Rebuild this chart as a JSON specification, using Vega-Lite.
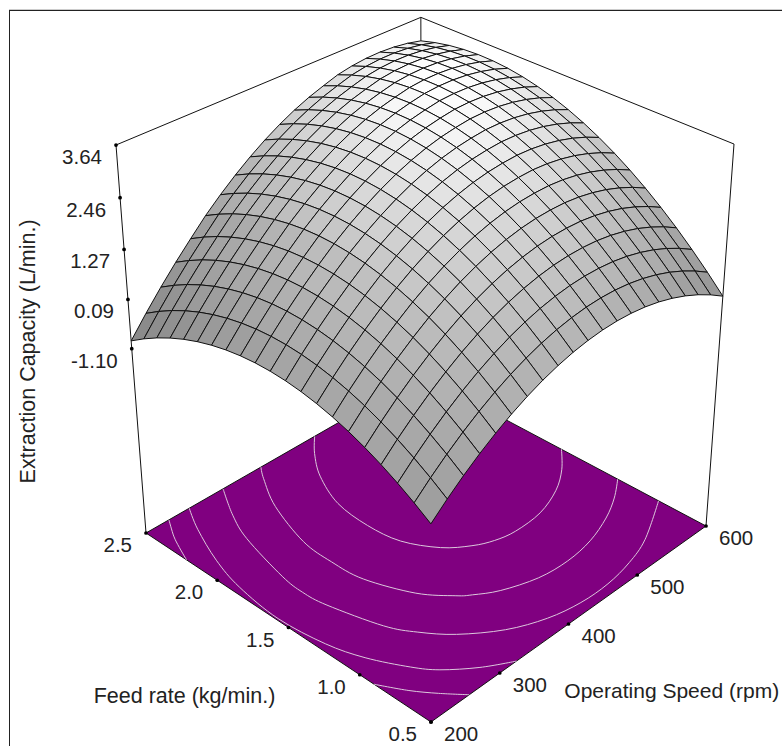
{"$schema":"https://vega.github.io/schema/vega-lite/v6.json","autosize":{"type":"fit","contains":"padding"},"width":783,"height":747,"padding":{"left":8,"top":9,"right":0,"bottom":0},"background":"#ffffff","view":{"stroke":null},"projection":{"type":"identity","scale":1,"translate":[-8,-9]},
"datasets":{
"box":[
{"e":"floor","k":0,"f":0.5,"s":200,"z":-5.84},{"e":"floor","k":1,"f":2.5,"s":200,"z":-5.84},{"e":"floor","k":2,"f":2.5,"s":600,"z":-5.84},{"e":"floor","k":3,"f":0.5,"s":600,"z":-5.84},{"e":"floor","k":4,"f":0.5,"s":200,"z":-5.84},
{"e":"top","k":0,"f":2.5,"s":200,"z":3.64},{"e":"top","k":1,"f":2.5,"s":600,"z":3.64},{"e":"top","k":2,"f":0.5,"s":600,"z":3.64},
{"e":"vl","k":0,"f":2.5,"s":200,"z":-5.84},{"e":"vl","k":1,"f":2.5,"s":200,"z":3.64},
{"e":"vr","k":0,"f":0.5,"s":600,"z":-5.84},{"e":"vr","k":1,"f":0.5,"s":600,"z":3.64},
{"e":"vb","k":0,"f":2.5,"s":600,"z":-5.84},{"e":"vb","k":1,"f":2.5,"s":600,"z":3.64}],
"contours":[
{"c":"a1","k":0,"f":2.188,"s":200},{"c":"a1","k":1,"f":2.29,"s":208},{"c":"a1","k":2,"f":2.38,"s":216},{"c":"a1","k":3,"f":2.5,"s":230},
{"c":"a2","k":0,"f":0.866,"s":200},{"c":"a2","k":1,"f":0.72,"s":216},{"c":"a2","k":2,"f":0.608,"s":232},{"c":"a2","k":3,"f":0.5,"s":250},
{"c":"b","k":0,"f":2.5,"s":257},{"c":"b","k":1,"f":2.336,"s":240},{"c":"b","k":2,"f":2.08,"s":220},{"c":"b","k":3,"f":1.842,"s":208},{"c":"b","k":4,"f":1.53,"s":202},{"c":"b","k":5,"f":1.234,"s":208},{"c":"b","k":6,"f":1.028,"s":220},{"c":"b","k":7,"f":0.828,"s":240},{"c":"b","k":8,"f":0.716,"s":256},{"c":"b","k":9,"f":0.593,"s":284},{"c":"b","k":10,"f":0.5,"s":314},
{"c":"c","k":0,"f":2.5,"s":303},{"c":"c","k":1,"f":2.296,"s":280},{"c":"c","k":2,"f":2.1,"s":264},{"c":"c","k":3,"f":1.752,"s":248},{"c":"c","k":4,"f":1.59,"s":245},{"c":"c","k":5,"f":1.434,"s":248},{"c":"c","k":6,"f":1.128,"s":264},{"c":"c","k":7,"f":0.978,"s":280},{"c":"c","k":8,"f":0.834,"s":303},{"c":"c","k":9,"f":0.689,"s":340},{"c":"c","k":10,"f":0.601,"s":380},{"c":"c","k":11,"f":0.562,"s":420},{"c":"c","k":12,"f":0.56,"s":460},{"c":"c","k":13,"f":0.591,"s":500},{"c":"c","k":14,"f":0.653,"s":540},{"c":"c","k":15,"f":0.808,"s":600},
{"c":"d","k":0,"f":2.5,"s":356},{"c":"d","k":1,"f":2.414,"s":344},{"c":"d","k":2,"f":2.194,"s":320},{"c":"d","k":3,"f":1.878,"s":300},{"c":"d","k":4,"f":1.66,"s":297},{"c":"d","k":5,"f":1.45,"s":300},{"c":"d","k":6,"f":1.188,"s":320},{"c":"d","k":7,"f":1.034,"s":344},{"c":"d","k":8,"f":0.981,"s":356},{"c":"d","k":9,"f":0.904,"s":380},{"c":"d","k":10,"f":0.836,"s":420},{"c":"d","k":11,"f":0.82,"s":460},{"c":"d","k":12,"f":0.845,"s":500},{"c":"d","k":13,"f":0.909,"s":540},{"c":"d","k":14,"f":0.988,"s":572},{"c":"d","k":15,"f":1.081,"s":600},
{"c":"e","k":0,"f":2.5,"s":434},{"c":"e","k":1,"f":2.386,"s":412},{"c":"e","k":2,"f":2.218,"s":388},{"c":"e","k":3,"f":1.982,"s":368},{"c":"e","k":4,"f":1.74,"s":363},{"c":"e","k":5,"f":1.53,"s":368},{"c":"e","k":6,"f":1.349,"s":388},{"c":"e","k":7,"f":1.246,"s":412},{"c":"e","k":8,"f":1.193,"s":434},{"c":"e","k":9,"f":1.168,"s":460},{"c":"e","k":10,"f":1.18,"s":500},{"c":"e","k":11,"f":1.248,"s":540},{"c":"e","k":12,"f":1.346,"s":572},{"c":"e","k":13,"f":1.469,"s":600}],
"grid":[
{"f":0.5,"s":200,"z":-1.053},{"f":0.5,"s":220,"z":-0.719},{"f":0.5,"s":240,"z":-0.415},{"f":0.5,"s":260,"z":-0.14},{"f":0.5,"s":280,"z":0.106},{"f":0.5,"s":300,"z":0.323},{"f":0.5,"s":320,"z":0.511},{"f":0.5,"s":340,"z":0.67},{"f":0.5,"s":360,"z":0.799},{"f":0.5,"s":380,"z":0.9},{"f":0.5,"s":400,"z":0.971},{"f":0.5,"s":420,"z":1.014},{"f":0.5,"s":440,"z":1.027},{"f":0.5,"s":460,"z":1.011},{"f":0.5,"s":480,"z":0.966},{"f":0.5,"s":500,"z":0.892},{"f":0.5,"s":520,"z":0.788},{"f":0.5,"s":540,"z":0.656},{"f":0.5,"s":560,"z":0.495},{"f":0.5,"s":580,"z":0.304},{"f":0.5,"s":600,"z":0.084},
{"f":0.6,"s":200,"z":-0.798},{"f":0.6,"s":220,"z":-0.457},{"f":0.6,"s":240,"z":-0.146},{"f":0.6,"s":260,"z":0.136},{"f":0.6,"s":280,"z":0.389},{"f":0.6,"s":300,"z":0.613},{"f":0.6,"s":320,"z":0.808},{"f":0.6,"s":340,"z":0.974},{"f":0.6,"s":360,"z":1.111},{"f":0.6,"s":380,"z":1.219},{"f":0.6,"s":400,"z":1.297},{"f":0.6,"s":420,"z":1.347},{"f":0.6,"s":440,"z":1.367},{"f":0.6,"s":460,"z":1.358},{"f":0.6,"s":480,"z":1.32},{"f":0.6,"s":500,"z":1.253},{"f":0.6,"s":520,"z":1.157},{"f":0.6,"s":540,"z":1.032},{"f":0.6,"s":560,"z":0.877},{"f":0.6,"s":580,"z":0.694},{"f":0.6,"s":600,"z":0.481},
{"f":0.7,"s":200,"z":-0.569},{"f":0.7,"s":220,"z":-0.221},{"f":0.7,"s":240,"z":0.097},{"f":0.7,"s":260,"z":0.386},{"f":0.7,"s":280,"z":0.646},{"f":0.7,"s":300,"z":0.878},{"f":0.7,"s":320,"z":1.08},{"f":0.7,"s":340,"z":1.253},{"f":0.7,"s":360,"z":1.397},{"f":0.7,"s":380,"z":1.512},{"f":0.7,"s":400,"z":1.597},{"f":0.7,"s":420,"z":1.654},{"f":0.7,"s":440,"z":1.681},{"f":0.7,"s":460,"z":1.679},{"f":0.7,"s":480,"z":1.649},{"f":0.7,"s":500,"z":1.589},{"f":0.7,"s":520,"z":1.5},{"f":0.7,"s":540,"z":1.382},{"f":0.7,"s":560,"z":1.234},{"f":0.7,"s":580,"z":1.058},{"f":0.7,"s":600,"z":0.852},
{"f":0.8,"s":200,"z":-0.366},{"f":0.8,"s":220,"z":-0.011},{"f":0.8,"s":240,"z":0.314},{"f":0.8,"s":260,"z":0.61},{"f":0.8,"s":280,"z":0.877},{"f":0.8,"s":300,"z":1.117},{"f":0.8,"s":320,"z":1.326},{"f":0.8,"s":340,"z":1.506},{"f":0.8,"s":360,"z":1.657},{"f":0.8,"s":380,"z":1.779},{"f":0.8,"s":400,"z":1.871},{"f":0.8,"s":420,"z":1.935},{"f":0.8,"s":440,"z":1.969},{"f":0.8,"s":460,"z":1.974},{"f":0.8,"s":480,"z":1.952},{"f":0.8,"s":500,"z":1.899},{"f":0.8,"s":520,"z":1.817},{"f":0.8,"s":540,"z":1.706},{"f":0.8,"s":560,"z":1.565},{"f":0.8,"s":580,"z":1.396},{"f":0.8,"s":600,"z":1.197},
{"f":0.9,"s":200,"z":-0.189},{"f":0.9,"s":220,"z":0.173},{"f":0.9,"s":240,"z":0.505},{"f":0.9,"s":260,"z":0.808},{"f":0.9,"s":280,"z":1.082},{"f":0.9,"s":300,"z":1.33},{"f":0.9,"s":320,"z":1.546},{"f":0.9,"s":340,"z":1.733},{"f":0.9,"s":360,"z":1.891},{"f":0.9,"s":380,"z":2.02},{"f":0.9,"s":400,"z":2.119},{"f":0.9,"s":420,"z":2.19},{"f":0.9,"s":440,"z":2.231},{"f":0.9,"s":460,"z":2.243},{"f":0.9,"s":480,"z":2.229},{"f":0.9,"s":500,"z":2.183},{"f":0.9,"s":520,"z":2.108},{"f":0.9,"s":540,"z":2.004},{"f":0.9,"s":560,"z":1.87},{"f":0.9,"s":580,"z":1.708},{"f":0.9,"s":600,"z":1.516},
{"f":1.0,"s":200,"z":-0.038},{"f":1.0,"s":220,"z":0.331},{"f":1.0,"s":240,"z":0.67},{"f":1.0,"s":260,"z":0.98},{"f":1.0,"s":280,"z":1.261},{"f":1.0,"s":300,"z":1.517},{"f":1.0,"s":320,"z":1.74},{"f":1.0,"s":340,"z":1.934},{"f":1.0,"s":360,"z":2.099},{"f":1.0,"s":380,"z":2.235},{"f":1.0,"s":400,"z":2.341},{"f":1.0,"s":420,"z":2.419},{"f":1.0,"s":440,"z":2.467},{"f":1.0,"s":460,"z":2.486},{"f":1.0,"s":480,"z":2.48},{"f":1.0,"s":500,"z":2.441},{"f":1.0,"s":520,"z":2.373},{"f":1.0,"s":540,"z":2.276},{"f":1.0,"s":560,"z":2.149},{"f":1.0,"s":580,"z":1.994},{"f":1.0,"s":600,"z":1.809},
{"f":1.1,"s":200,"z":0.086},{"f":1.1,"s":220,"z":0.462},{"f":1.1,"s":240,"z":0.808},{"f":1.1,"s":260,"z":1.125},{"f":1.1,"s":280,"z":1.413},{"f":1.1,"s":300,"z":1.677},{"f":1.1,"s":320,"z":1.907},{"f":1.1,"s":340,"z":2.108},{"f":1.1,"s":360,"z":2.28},{"f":1.1,"s":380,"z":2.423},{"f":1.1,"s":400,"z":2.536},{"f":1.1,"s":420,"z":2.621},{"f":1.1,"s":440,"z":2.676},{"f":1.1,"s":460,"z":2.702},{"f":1.1,"s":480,"z":2.704},{"f":1.1,"s":500,"z":2.672},{"f":1.1,"s":520,"z":2.611},{"f":1.1,"s":540,"z":2.521},{"f":1.1,"s":560,"z":2.401},{"f":1.1,"s":580,"z":2.253},{"f":1.1,"s":600,"z":2.075},
{"f":1.2,"s":200,"z":0.184},{"f":1.2,"s":220,"z":0.567},{"f":1.2,"s":240,"z":0.92},{"f":1.2,"s":260,"z":1.244},{"f":1.2,"s":280,"z":1.539},{"f":1.2,"s":300,"z":1.811},{"f":1.2,"s":320,"z":2.048},{"f":1.2,"s":340,"z":2.256},{"f":1.2,"s":360,"z":2.435},{"f":1.2,"s":380,"z":2.585},{"f":1.2,"s":400,"z":2.705},{"f":1.2,"s":420,"z":2.797},{"f":1.2,"s":440,"z":2.859},{"f":1.2,"s":460,"z":2.892},{"f":1.2,"s":480,"z":2.902},{"f":1.2,"s":500,"z":2.877},{"f":1.2,"s":520,"z":2.823},{"f":1.2,"s":540,"z":2.74},{"f":1.2,"s":560,"z":2.627},{"f":1.2,"s":580,"z":2.486},{"f":1.2,"s":600,"z":2.315},
{"f":1.3,"s":200,"z":0.256},{"f":1.3,"s":220,"z":0.646},{"f":1.3,"s":240,"z":1.006},{"f":1.3,"s":260,"z":1.337},{"f":1.3,"s":280,"z":1.639},{"f":1.3,"s":300,"z":1.919},{"f":1.3,"s":320,"z":2.163},{"f":1.3,"s":340,"z":2.378},{"f":1.3,"s":360,"z":2.564},{"f":1.3,"s":380,"z":2.721},{"f":1.3,"s":400,"z":2.848},{"f":1.3,"s":420,"z":2.947},{"f":1.3,"s":440,"z":3.016},{"f":1.3,"s":460,"z":3.056},{"f":1.3,"s":480,"z":3.074},{"f":1.3,"s":500,"z":3.056},{"f":1.3,"s":520,"z":3.009},{"f":1.3,"s":540,"z":2.933},{"f":1.3,"s":560,"z":2.827},{"f":1.3,"s":580,"z":2.693},{"f":1.3,"s":600,"z":2.529},
{"f":1.4,"s":200,"z":0.302},{"f":1.4,"s":220,"z":0.699},{"f":1.4,"s":240,"z":1.066},{"f":1.4,"s":260,"z":1.404},{"f":1.4,"s":280,"z":1.713},{"f":1.4,"s":300,"z":2.001},{"f":1.4,"s":320,"z":2.252},{"f":1.4,"s":340,"z":2.474},{"f":1.4,"s":360,"z":2.667},{"f":1.4,"s":380,"z":2.831},{"f":1.4,"s":400,"z":2.965},{"f":1.4,"s":420,"z":3.071},{"f":1.4,"s":440,"z":3.147},{"f":1.4,"s":460,"z":3.194},{"f":1.4,"s":480,"z":3.22},{"f":1.4,"s":500,"z":3.209},{"f":1.4,"s":520,"z":3.169},{"f":1.4,"s":540,"z":3.1},{"f":1.4,"s":560,"z":3.001},{"f":1.4,"s":580,"z":2.874},{"f":1.4,"s":600,"z":2.717},
{"f":1.5,"s":200,"z":0.322},{"f":1.5,"s":220,"z":0.726},{"f":1.5,"s":240,"z":1.1},{"f":1.5,"s":260,"z":1.445},{"f":1.5,"s":280,"z":1.761},{"f":1.5,"s":300,"z":2.057},{"f":1.5,"s":320,"z":2.315},{"f":1.5,"s":340,"z":2.544},{"f":1.5,"s":360,"z":2.744},{"f":1.5,"s":380,"z":2.915},{"f":1.5,"s":400,"z":3.056},{"f":1.5,"s":420,"z":3.169},{"f":1.5,"s":440,"z":3.252},{"f":1.5,"s":460,"z":3.306},{"f":1.5,"s":480,"z":3.34},{"f":1.5,"s":500,"z":3.336},{"f":1.5,"s":520,"z":3.303},{"f":1.5,"s":540,"z":3.241},{"f":1.5,"s":560,"z":3.149},{"f":1.5,"s":580,"z":3.029},{"f":1.5,"s":600,"z":2.879},
{"f":1.6,"s":200,"z":0.316},{"f":1.6,"s":220,"z":0.727},{"f":1.6,"s":240,"z":1.108},{"f":1.6,"s":260,"z":1.46},{"f":1.6,"s":280,"z":1.783},{"f":1.6,"s":300,"z":2.087},{"f":1.6,"s":320,"z":2.352},{"f":1.6,"s":340,"z":2.588},{"f":1.6,"s":360,"z":2.795},{"f":1.6,"s":380,"z":2.973},{"f":1.6,"s":400,"z":3.121},{"f":1.6,"s":420,"z":3.241},{"f":1.6,"s":440,"z":3.331},{"f":1.6,"s":460,"z":3.392},{"f":1.6,"s":480,"z":3.434},{"f":1.6,"s":500,"z":3.437},{"f":1.6,"s":520,"z":3.411},{"f":1.6,"s":540,"z":3.356},{"f":1.6,"s":560,"z":3.271},{"f":1.6,"s":580,"z":3.158},{"f":1.6,"s":600,"z":3.015},
{"f":1.7,"s":200,"z":0.284},{"f":1.7,"s":220,"z":0.702},{"f":1.7,"s":240,"z":1.09},{"f":1.7,"s":260,"z":1.449},{"f":1.7,"s":280,"z":1.779},{"f":1.7,"s":300,"z":2.091},{"f":1.7,"s":320,"z":2.363},{"f":1.7,"s":340,"z":2.606},{"f":1.7,"s":360,"z":2.82},{"f":1.7,"s":380,"z":3.005},{"f":1.7,"s":400,"z":3.16},{"f":1.7,"s":420,"z":3.287},{"f":1.7,"s":440,"z":3.384},{"f":1.7,"s":460,"z":3.452},{"f":1.7,"s":480,"z":3.502},{"f":1.7,"s":500,"z":3.512},{"f":1.7,"s":520,"z":3.493},{"f":1.7,"s":540,"z":3.445},{"f":1.7,"s":560,"z":3.367},{"f":1.7,"s":580,"z":3.261},{"f":1.7,"s":600,"z":3.125},
{"f":1.8,"s":200,"z":0.226},{"f":1.8,"s":220,"z":0.651},{"f":1.8,"s":240,"z":1.046},{"f":1.8,"s":260,"z":1.412},{"f":1.8,"s":280,"z":1.749},{"f":1.8,"s":300,"z":2.069},{"f":1.8,"s":320,"z":2.348},{"f":1.8,"s":340,"z":2.598},{"f":1.8,"s":360,"z":2.819},{"f":1.8,"s":380,"z":3.011},{"f":1.8,"s":400,"z":3.173},{"f":1.8,"s":420,"z":3.307},{"f":1.8,"s":440,"z":3.411},{"f":1.8,"s":460,"z":3.486},{"f":1.8,"s":480,"z":3.544},{"f":1.8,"s":500,"z":3.561},{"f":1.8,"s":520,"z":3.549},{"f":1.8,"s":540,"z":3.508},{"f":1.8,"s":560,"z":3.437},{"f":1.8,"s":580,"z":3.338},{"f":1.8,"s":600,"z":3.209},
{"f":1.9,"s":200,"z":0.142},{"f":1.9,"s":220,"z":0.574},{"f":1.9,"s":240,"z":0.976},{"f":1.9,"s":260,"z":1.349},{"f":1.9,"s":280,"z":1.693},{"f":1.9,"s":300,"z":2.021},{"f":1.9,"s":320,"z":2.307},{"f":1.9,"s":340,"z":2.564},{"f":1.9,"s":360,"z":2.792},{"f":1.9,"s":380,"z":2.991},{"f":1.9,"s":400,"z":3.16},{"f":1.9,"s":420,"z":3.301},{"f":1.9,"s":440,"z":3.412},{"f":1.9,"s":460,"z":3.494},{"f":1.9,"s":480,"z":3.56},{"f":1.9,"s":500,"z":3.584},{"f":1.9,"s":520,"z":3.579},{"f":1.9,"s":540,"z":3.545},{"f":1.9,"s":560,"z":3.481},{"f":1.9,"s":580,"z":3.389},{"f":1.9,"s":600,"z":3.267},
{"f":2.0,"s":200,"z":0.032},{"f":2.0,"s":220,"z":0.471},{"f":2.0,"s":240,"z":0.88},{"f":2.0,"s":260,"z":1.26},{"f":2.0,"s":280,"z":1.611},{"f":2.0,"s":300,"z":1.947},{"f":2.0,"s":320,"z":2.24},{"f":2.0,"s":340,"z":2.504},{"f":2.0,"s":360,"z":2.739},{"f":2.0,"s":380,"z":2.945},{"f":2.0,"s":400,"z":3.121},{"f":2.0,"s":420,"z":3.269},{"f":2.0,"s":440,"z":3.387},{"f":2.0,"s":460,"z":3.476},{"f":2.0,"s":480,"z":3.55},{"f":2.0,"s":500,"z":3.581},{"f":2.0,"s":520,"z":3.583},{"f":2.0,"s":540,"z":3.556},{"f":2.0,"s":560,"z":3.499},{"f":2.0,"s":580,"z":3.414},{"f":2.0,"s":600,"z":3.299},
{"f":2.1,"s":200,"z":-0.104},{"f":2.1,"s":220,"z":0.342},{"f":2.1,"s":240,"z":0.758},{"f":2.1,"s":260,"z":1.145},{"f":2.1,"s":280,"z":1.503},{"f":2.1,"s":300,"z":1.847},{"f":2.1,"s":320,"z":2.147},{"f":2.1,"s":340,"z":2.418},{"f":2.1,"s":360,"z":2.66},{"f":2.1,"s":380,"z":2.873},{"f":2.1,"s":400,"z":3.056},{"f":2.1,"s":420,"z":3.211},{"f":2.1,"s":440,"z":3.336},{"f":2.1,"s":460,"z":3.432},{"f":2.1,"s":480,"z":3.514},{"f":2.1,"s":500,"z":3.552},{"f":2.1,"s":520,"z":3.561},{"f":2.1,"s":540,"z":3.541},{"f":2.1,"s":560,"z":3.491},{"f":2.1,"s":580,"z":3.413},{"f":2.1,"s":600,"z":3.305},
{"f":2.2,"s":200,"z":-0.266},{"f":2.2,"s":220,"z":0.187},{"f":2.2,"s":240,"z":0.61},{"f":2.2,"s":260,"z":1.004},{"f":2.2,"s":280,"z":1.369},{"f":2.2,"s":300,"z":1.721},{"f":2.2,"s":320,"z":2.028},{"f":2.2,"s":340,"z":2.306},{"f":2.2,"s":360,"z":2.555},{"f":2.2,"s":380,"z":2.775},{"f":2.2,"s":400,"z":2.965},{"f":2.2,"s":420,"z":3.127},{"f":2.2,"s":440,"z":3.259},{"f":2.2,"s":460,"z":3.362},{"f":2.2,"s":480,"z":3.452},{"f":2.2,"s":500,"z":3.497},{"f":2.2,"s":520,"z":3.513},{"f":2.2,"s":540,"z":3.5},{"f":2.2,"s":560,"z":3.457},{"f":2.2,"s":580,"z":3.386},{"f":2.2,"s":600,"z":3.285},
{"f":2.3,"s":200,"z":-0.454},{"f":2.3,"s":220,"z":0.006},{"f":2.3,"s":240,"z":0.436},{"f":2.3,"s":260,"z":0.837},{"f":2.3,"s":280,"z":1.209},{"f":2.3,"s":300,"z":1.569},{"f":2.3,"s":320,"z":1.883},{"f":2.3,"s":340,"z":2.168},{"f":2.3,"s":360,"z":2.424},{"f":2.3,"s":380,"z":2.651},{"f":2.3,"s":400,"z":2.848},{"f":2.3,"s":420,"z":3.017},{"f":2.3,"s":440,"z":3.156},{"f":2.3,"s":460,"z":3.266},{"f":2.3,"s":480,"z":3.364},{"f":2.3,"s":500,"z":3.416},{"f":2.3,"s":520,"z":3.439},{"f":2.3,"s":540,"z":3.433},{"f":2.3,"s":560,"z":3.397},{"f":2.3,"s":580,"z":3.333},{"f":2.3,"s":600,"z":3.239},
{"f":2.4,"s":200,"z":-0.669},{"f":2.4,"s":220,"z":-0.202},{"f":2.4,"s":240,"z":0.235},{"f":2.4,"s":260,"z":0.643},{"f":2.4,"s":280,"z":1.022},{"f":2.4,"s":300,"z":1.39},{"f":2.4,"s":320,"z":1.711},{"f":2.4,"s":340,"z":2.003},{"f":2.4,"s":360,"z":2.266},{"f":2.4,"s":380,"z":2.5},{"f":2.4,"s":400,"z":2.704},{"f":2.4,"s":420,"z":2.88},{"f":2.4,"s":440,"z":3.026},{"f":2.4,"s":460,"z":3.143},{"f":2.4,"s":480,"z":3.249},{"f":2.4,"s":500,"z":3.308},{"f":2.4,"s":520,"z":3.338},{"f":2.4,"s":540,"z":3.339},{"f":2.4,"s":560,"z":3.31},{"f":2.4,"s":580,"z":3.253},{"f":2.4,"s":600,"z":3.166},
{"f":2.5,"s":200,"z":-0.91},{"f":2.5,"s":220,"z":-0.436},{"f":2.5,"s":240,"z":0.008},{"f":2.5,"s":260,"z":0.423},{"f":2.5,"s":280,"z":0.809},{"f":2.5,"s":300,"z":1.185},{"f":2.5,"s":320,"z":1.513},{"f":2.5,"s":340,"z":1.812},{"f":2.5,"s":360,"z":2.082},{"f":2.5,"s":380,"z":2.323},{"f":2.5,"s":400,"z":2.534},{"f":2.5,"s":420,"z":2.717},{"f":2.5,"s":440,"z":2.87},{"f":2.5,"s":460,"z":2.994},{"f":2.5,"s":480,"z":3.108},{"f":2.5,"s":500,"z":3.174},{"f":2.5,"s":520,"z":3.211},{"f":2.5,"s":540,"z":3.219},{"f":2.5,"s":560,"z":3.197},{"f":2.5,"s":580,"z":3.147},{"f":2.5,"s":600,"z":3.067}]
},
"data":{"values":[
{"axis":"z","f":2.5,"s":200,"z":3.64,"label":"3.64"},{"axis":"z","f":2.5,"s":200,"z":2.46,"label":"2.46"},{"axis":"z","f":2.5,"s":200,"z":1.27,"label":"1.27"},{"axis":"z","f":2.5,"s":200,"z":0.09,"label":"0.09"},{"axis":"z","f":2.5,"s":200,"z":-1.10,"label":"-1.10"},
{"axis":"f","f":0.5,"s":200,"label":"0.5"},{"axis":"f","f":1.0,"s":200,"label":"1.0"},{"axis":"f","f":1.5,"s":200,"label":"1.5"},{"axis":"f","f":2.0,"s":200,"label":"2.0"},{"axis":"f","f":2.5,"s":200,"label":"2.5"},
{"axis":"s","f":0.5,"s":200,"label":"200"},{"axis":"s","f":0.5,"s":300,"label":"300"},{"axis":"s","f":0.5,"s":400,"label":"400"},{"axis":"s","f":0.5,"s":500,"label":"500"},{"axis":"s","f":0.5,"s":600,"label":"600"},
{"axis":"tz","f":2.5,"s":200,"z":1.27,"label":"Extraction Capacity (L/min.)"},{"axis":"tf","f":1.5,"s":200,"label":"Feed rate (kg/min.)"},{"axis":"ts","f":0.5,"s":300,"label":"Operating Speed (rpm)"}]},
"transform":[
{"calculate":"(datum.f-0.5)/2","as":"u"},{"calculate":"(datum.s-200)/400","as":"v"},{"calculate":"isValid(datum.z)?0.5+(datum.z+1.1)/9.48:0","as":"w"},
{"calculate":"isValid(datum.z)?(430-268.43*datum.u+368.14*datum.v-45.55*datum.w)/(1+0.11425*datum.u+0.13211*datum.v-0.1054*datum.w):430-285*datum.u+275*datum.v","as":"px"},
{"calculate":"isValid(datum.z)?(721-128.22*datum.u-126.64*datum.v-447.5*datum.w)/(1+0.11425*datum.u+0.13211*datum.v-0.1054*datum.w):721-189*datum.u-196*datum.v","as":"py"}],
"layer":[
{"data":{"name":"box"},"transform":[{"filter":"datum.e!='floor'"},{"calculate":"(datum.f-0.5)/2","as":"u"},{"calculate":"(datum.s-200)/400","as":"v"},{"calculate":"0.5+(datum.z+1.1)/9.48","as":"w"},{"calculate":"(430-268.43*datum.u+368.14*datum.v-45.55*datum.w)/(1+0.11425*datum.u+0.13211*datum.v-0.1054*datum.w)-4.5*datum.u*datum.v","as":"px"},{"calculate":"(721-128.22*datum.u-126.64*datum.v-447.5*datum.w)/(1+0.11425*datum.u+0.13211*datum.v-0.1054*datum.w)","as":"py"}],
"mark":{"type":"line","color":"#111111","strokeWidth":1},"encoding":{"longitude":{"field":"px","type":"quantitative"},"latitude":{"field":"py","type":"quantitative"},"detail":{"field":"e","type":"nominal"},"order":{"field":"k","type":"quantitative"}}},
{"data":{"name":"box"},"transform":[{"filter":"datum.e=='floor'"},{"calculate":"(datum.f-0.5)/2","as":"u"},{"calculate":"(datum.s-200)/400","as":"v"},{"calculate":"0.5+(datum.z+1.1)/9.48","as":"w"},{"calculate":"(430-268.43*datum.u+368.14*datum.v-45.55*datum.w)/(1+0.11425*datum.u+0.13211*datum.v-0.1054*datum.w)-4.5*datum.u*datum.v","as":"px"},{"calculate":"(721-128.22*datum.u-126.64*datum.v-447.5*datum.w)/(1+0.11425*datum.u+0.13211*datum.v-0.1054*datum.w)","as":"py"}],
"mark":{"type":"line","stroke":"#111111","fill":"#800080","strokeWidth":1},"encoding":{"longitude":{"field":"px","type":"quantitative"},"latitude":{"field":"py","type":"quantitative"},"order":{"field":"k","type":"quantitative"}}},
{"data":{"name":"contours"},"transform":[{"calculate":"(datum.f-0.5)/2","as":"u"},{"calculate":"(datum.s-200)/400","as":"v"},{"calculate":"(430-268.43*datum.u+368.14*datum.v)/(1+0.11425*datum.u+0.13211*datum.v)-4.5*datum.u*datum.v","as":"px"},{"calculate":"(721-128.22*datum.u-126.64*datum.v)/(1+0.11425*datum.u+0.13211*datum.v)","as":"py"}],
"mark":{"type":"line","color":"#dcc8dc","strokeWidth":1,"interpolate":"cardinal"},"encoding":{"longitude":{"field":"px","type":"quantitative"},"latitude":{"field":"py","type":"quantitative"},"detail":{"field":"c","type":"nominal"},"order":{"field":"k","type":"quantitative"}}},
{"data":{"name":"grid"},"transform":[
{"window":[{"op":"lead","field":"z","as":"z10"}],"groupby":["s"],"sort":[{"field":"f","order":"ascending"}]},
{"window":[{"op":"lead","field":"z","as":"z01"},{"op":"lead","field":"z10","as":"z11"}],"groupby":["f"],"sort":[{"field":"s","order":"ascending"}]},
{"filter":"isValid(datum.z10)&&isValid(datum.z01)&&isValid(datum.z11)"},
{"calculate":"(datum.f-0.5)/2","as":"u"},{"calculate":"(datum.s-200)/400","as":"v"},{"calculate":"datum.u+0.05","as":"u1"},{"calculate":"datum.v+0.05","as":"v1"},
{"calculate":"0.5+(datum.z+1.1)/9.48","as":"w00"},{"calculate":"0.5+(datum.z10+1.1)/9.48","as":"w10"},{"calculate":"0.5+(datum.z01+1.1)/9.48","as":"w01"},{"calculate":"0.5+(datum.z11+1.1)/9.48","as":"w11"},
{"calculate":"1+0.11425*datum.u+0.13211*datum.v-0.1054*datum.w00","as":"d00"},{"calculate":"1+0.11425*datum.u1+0.13211*datum.v-0.1054*datum.w10","as":"d10"},{"calculate":"1+0.11425*datum.u+0.13211*datum.v1-0.1054*datum.w01","as":"d01"},{"calculate":"1+0.11425*datum.u1+0.13211*datum.v1-0.1054*datum.w11","as":"d11"},
{"calculate":"(430-268.43*datum.u+368.14*datum.v-45.55*datum.w00)/datum.d00-4.5*datum.u*datum.v","as":"x00"},{"calculate":"(721-128.22*datum.u-126.64*datum.v-447.5*datum.w00)/datum.d00","as":"y00"},
{"calculate":"(430-268.43*datum.u1+368.14*datum.v-45.55*datum.w10)/datum.d10-4.5*datum.u1*datum.v","as":"x10"},{"calculate":"(721-128.22*datum.u1-126.64*datum.v-447.5*datum.w10)/datum.d10","as":"y10"},
{"calculate":"(430-268.43*datum.u+368.14*datum.v1-45.55*datum.w01)/datum.d01-4.5*datum.u*datum.v1","as":"x01"},{"calculate":"(721-128.22*datum.u-126.64*datum.v1-447.5*datum.w01)/datum.d01","as":"y01"},
{"calculate":"(430-268.43*datum.u1+368.14*datum.v1-45.55*datum.w11)/datum.d11-4.5*datum.u1*datum.v1","as":"x11"},{"calculate":"(721-128.22*datum.u1-126.64*datum.v1-447.5*datum.w11)/datum.d11","as":"y11"},
{"calculate":"((datum.w10+datum.w11)-(datum.w00+datum.w01))/0.1","as":"gu"},{"calculate":"((datum.w01+datum.w11)-(datum.w00+datum.w10))/0.1","as":"gv"},
{"calculate":"1/sqrt(1+1.9*(datum.gu*datum.gu+datum.gv*datum.gv))","as":"shade"},
{"calculate":"-(datum.u+datum.v)","as":"depth"},
{"calculate":"{type:'Feature',properties:{},geometry:{type:'Polygon',coordinates:[[[datum.x00,datum.y00],[datum.x10,datum.y10],[datum.x11,datum.y11],[datum.x01,datum.y01],[datum.x00,datum.y00]]]}}","as":"geo"}],
"mark":{"type":"geoshape","stroke":"#111111","strokeWidth":1},"encoding":{"shape":{"field":"geo","type":"geojson"},"fill":{"field":"shade","type":"quantitative","scale":{"domain":[0.5,1],"range":["#808080","#ffffff"]},"legend":null},"order":{"field":"depth","type":"quantitative"}}},
{"transform":[{"filter":"indexof(['z','f','s'],datum.axis)>=0"}],"mark":{"type":"point","filled":true,"color":"#000000","opacity":1,"size":14},"encoding":{"longitude":{"field":"px","type":"quantitative"},"latitude":{"field":"py","type":"quantitative"}}},
{"transform":[{"filter":"datum.axis=='z'||datum.axis=='f'"}],"mark":{"type":"text","font":"Liberation Sans","fontSize":20.5,"color":"#222222","align":"right","baseline":"middle","dx":-14,"dy":13},"encoding":{"longitude":{"field":"px","type":"quantitative"},"latitude":{"field":"py","type":"quantitative"},"text":{"field":"label","type":"nominal"}}},
{"transform":[{"filter":"datum.axis=='s'"}],"mark":{"type":"text","font":"Liberation Sans","fontSize":20.5,"color":"#222222","align":"left","baseline":"middle","dx":13,"dy":13},"encoding":{"longitude":{"field":"px","type":"quantitative"},"latitude":{"field":"py","type":"quantitative"},"text":{"field":"label","type":"nominal"}}},
{"transform":[{"filter":"datum.axis=='tz'"}],"mark":{"type":"text","font":"Liberation Sans","fontSize":21.5,"color":"#222222","align":"center","baseline":"middle","angle":270,"dx":-102,"dy":-95},"encoding":{"longitude":{"field":"px","type":"quantitative"},"latitude":{"field":"py","type":"quantitative"},"text":{"field":"label","type":"nominal"}}},
{"transform":[{"filter":"datum.axis=='tf'"}],"mark":{"type":"text","font":"Liberation Sans","fontSize":21.5,"color":"#222222","align":"center","baseline":"middle","dx":-104,"dy":69},"encoding":{"longitude":{"field":"px","type":"quantitative"},"latitude":{"field":"py","type":"quantitative"},"text":{"field":"label","type":"nominal"}}},
{"transform":[{"filter":"datum.axis=='ts'"}],"mark":{"type":"text","font":"Liberation Sans","fontSize":21,"color":"#222222","align":"center","baseline":"middle","dx":172,"dy":19},"encoding":{"longitude":{"field":"px","type":"quantitative"},"latitude":{"field":"py","type":"quantitative"},"text":{"field":"label","type":"nominal"}}},
{"data":{"values":[{"a":1}]},"mark":{"type":"rule","color":"#cccccc","strokeWidth":1},"encoding":{"y":{"value":-0.5}}},
{"data":{"values":[{"a":1}]},"mark":{"type":"rule","color":"#222222","strokeWidth":1},"encoding":{"y":{"value":0.5}}},
{"data":{"values":[{"a":1}]},"mark":{"type":"rule","color":"#222222","strokeWidth":1},"encoding":{"x":{"value":0.5}}}
]}
